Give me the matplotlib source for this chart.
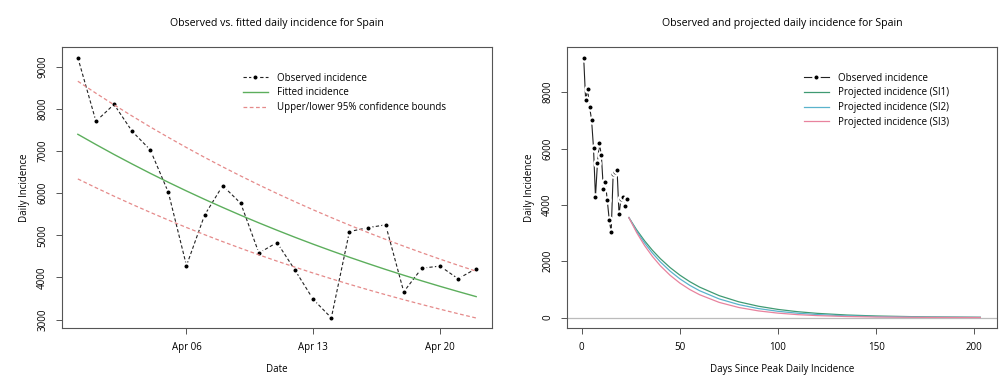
import matplotlib
matplotlib.use("Agg")
import matplotlib.pyplot as plt
import numpy as np

plt.rcParams["font.family"] = ["Open Sans", "DejaVu Sans"]
plt.rcParams["font.size"] = 7

# daily incidence since the peak (31 Mar - 22 Apr)
dates = np.arange(np.datetime64("2020-03-31"), np.datetime64("2020-04-23"))
observed = [9220, 7710, 8110, 7470, 7030, 6020, 4280, 5480, 6180, 5760, 4580, 4830,
            4170, 3480, 3040, 5090, 5180, 5250, 3660, 4220, 4270, 3970, 4210]
fitted = [7400, 7157, 6921, 6694, 6473, 6260, 6054, 5855, 5663, 5476, 5296, 5122,
          4953, 4790, 4633, 4480, 4333, 4190, 4053, 3919, 3790, 3666, 3545]
upper = [8660, 8375, 8100, 7833, 7575, 7326, 7085, 6852, 6627, 6409, 6198, 5994,
         5797, 5606, 5422, 5243, 5071, 4904, 4743, 4587, 4436, 4290, 4149]
lower = [6340, 6131, 5930, 5735, 5546, 5363, 5187, 5016, 4851, 4692, 4537, 4388,
         4244, 4104, 3969, 3838, 3712, 3590, 3472, 3358, 3247, 3140, 3037]
date_ticks = ["2020-04-06", "2020-04-13", "2020-04-20"]
date_labels = ["Apr 06", "Apr 13", "Apr 20"]

# projections, days since peak
obs_days = list(range(1, 24))
proj_days = [24, 28, 32, 36, 40, 45, 50, 55, 60, 70, 80, 90, 100, 110, 120, 135, 150, 175, 203]
proj_si1 = [3550, 3111, 2726, 2389, 2094, 1775, 1505, 1276, 1082, 778, 559, 402, 289,
            208, 149, 91, 56, 24, 10]
proj_si2 = [3550, 3067, 2651, 2291, 1980, 1650, 1374, 1145, 954, 662, 460, 319, 222,
            154, 107, 62, 36, 14, 5]
proj_si3 = [3550, 3013, 2557, 2171, 1842, 1501, 1223, 996, 812, 539, 357, 237, 157,
            104, 69, 37, 20, 7, 2]

fig = plt.figure(figsize=(10, 3.77), dpi=100)
ax1 = fig.add_axes([0.062, 0.130, 0.430, 0.745])
ax2 = fig.add_axes([0.567, 0.130, 0.430, 0.745])

obs_style = dict(color="#222222", marker="o", markersize=4.5, markerfacecolor="black",
                 markeredgecolor="white", markeredgewidth=1.6, linewidth=0.8)

ax1.plot(dates, observed, linestyle=(0, (3, 2)), label="Observed incidence", **obs_style)
ax1.plot(dates, fitted, color="#5cae5c", linewidth=1.0, label="Fitted incidence")
ax1.plot(dates, upper, color="#e58a8a", linestyle=(0, (3, 2)), linewidth=0.9,
         label="Upper/lower 95% confidence bounds")
ax1.plot(dates, lower, color="#e58a8a", linestyle=(0, (3, 2)), linewidth=0.9)
ax1.set_xlim(dates[0] - np.timedelta64(21, "h"), dates[-1] + np.timedelta64(21, "h"))
ax1.set_ylim(2800, 9470)
ax1.set_yticks([3000, 4000, 5000, 6000, 7000, 8000, 9000])
ax1.set_xticks([np.datetime64(d) for d in date_ticks])
ax1.set_xticklabels(date_labels)
ax1.set_title("Observed vs. fitted daily incidence for Spain", fontsize=7.6, pad=15)
ax1.set_xlabel("Date", labelpad=8)
ax1.set_ylabel("Daily Incidence", labelpad=5)
ax1.legend(loc="upper left", bbox_to_anchor=(0.40, 0.94), frameon=False, fontsize=7,
           handlelength=2.6, handletextpad=0.9, labelspacing=0.38)

ax2.axhline(0, color="#bbbbbb", linewidth=0.9)
ax2.plot(obs_days, observed, linestyle="-", label="Observed incidence", **obs_style)
ax2.plot(proj_days, proj_si1, color="#3f9a72", linewidth=0.9, label="Projected incidence (SI1)")
ax2.plot(proj_days, proj_si2, color="#5ab3cc", linewidth=0.9, label="Projected incidence (SI2)")
ax2.plot(proj_days, proj_si3, color="#e8839e", linewidth=0.9, label="Projected incidence (SI3)")
ax2.set_xlim(-7.5, 211.5)
ax2.set_ylim(-370, 9600)
ax2.set_xticks([0, 50, 100, 150, 200])
ax2.set_yticks([0, 2000, 4000, 6000, 8000])
ax2.set_title("Observed and projected daily incidence for Spain", fontsize=7.6, pad=15)
ax2.set_xlabel("Days Since Peak Daily Incidence", labelpad=8)
ax2.set_ylabel("Daily Incidence", labelpad=5)
ax2.legend(loc="upper left", bbox_to_anchor=(0.53, 0.94), frameon=False, fontsize=7,
           handlelength=2.6, handletextpad=0.9, labelspacing=0.38)

for ax in (ax1, ax2):
    for s in ax.spines.values():
        s.set_color("#555555")
        s.set_linewidth(0.8)
    ax.tick_params(direction="out", length=4, width=0.7, color="#555555",
                   labelsize=7, pad=6)
    for lab in ax.get_yticklabels():
        lab.set_rotation(90)
        lab.set_va("center")

fig.savefig("out.png", dpi=100)
